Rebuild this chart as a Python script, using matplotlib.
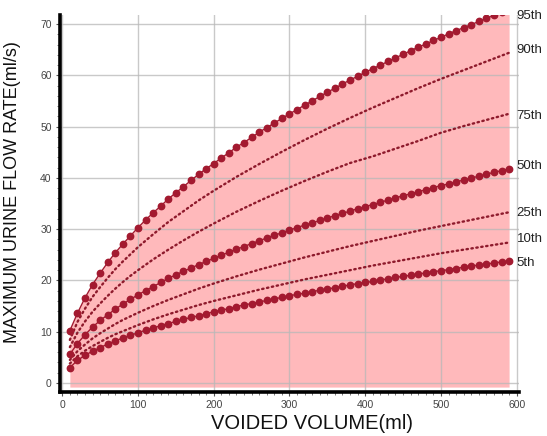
import matplotlib
matplotlib.use("Agg")
import matplotlib.pyplot as plt
from matplotlib.ticker import MultipleLocator

plt.rcParams['font.family'] = ['Liberation Sans', 'DejaVu Sans']

# Voided volume (ml) for the marker series (every 10 ml)
volume = [10, 20, 30, 40, 50, 60, 70, 80, 90, 100, 110, 120, 130, 140, 150,
          160, 170, 180, 190, 200, 210, 220, 230, 240, 250, 260, 270, 280, 290,
          300, 310, 320, 330, 340, 350, 360, 370, 380, 390, 400, 410, 420, 430,
          440, 450, 460, 470, 480, 490, 500, 510, 520, 530, 540, 550, 560, 570,
          580, 590]

p95 = [10.2, 13.6, 16.6, 19.2, 21.4, 23.5, 25.4, 27.1, 28.7, 30.3, 31.8, 33.2,
       34.5, 35.9, 37.1, 38.3, 39.5, 40.7, 41.8, 42.8, 43.9, 44.9, 46.0, 46.9,
       47.9, 48.9, 49.8, 50.7, 51.6, 52.5, 53.3, 54.2, 55.0, 55.9, 56.7, 57.5,
       58.3, 59.1, 59.8, 60.6, 61.3, 62.0, 62.7, 63.4, 64.1, 64.8, 65.5, 66.1,
       66.8, 67.4, 68.1, 68.7, 69.3, 69.9, 70.5, 71.1, 71.7, 72.3, 72.9]

p50 = [5.6, 7.7, 9.4, 10.9, 12.2, 13.3, 14.4, 15.4, 16.3, 17.2, 18.0, 18.8,
       19.6, 20.4, 21.1, 21.8, 22.4, 23.1, 23.7, 24.3, 24.9, 25.5, 26.1, 26.6,
       27.2, 27.7, 28.3, 28.8, 29.3, 29.8, 30.3, 30.8, 31.2, 31.7, 32.2, 32.6,
       33.1, 33.5, 34.0, 34.4, 34.8, 35.2, 35.7, 36.1, 36.5, 36.9, 37.3, 37.7,
       38.1, 38.5, 38.8, 39.2, 39.6, 40.0, 40.3, 40.7, 41.1, 41.4, 41.8]

p5 = [3.0, 4.4, 5.4, 6.2, 6.9, 7.6, 8.2, 8.8, 9.3, 9.8, 10.3, 10.7, 11.2, 11.6,
      12.0, 12.4, 12.8, 13.1, 13.5, 13.9, 14.2, 14.5, 14.9, 15.2, 15.5, 15.8,
      16.1, 16.4, 16.7, 17.0, 17.3, 17.5, 17.8, 18.1, 18.3, 18.6, 18.9, 19.1,
      19.4, 19.6, 19.8, 20.1, 20.3, 20.6, 20.8, 21.0, 21.2, 21.5, 21.7, 21.9,
      22.1, 22.3, 22.6, 22.8, 23.0, 23.2, 23.4, 23.6, 23.8]

# Voided volume (ml) for the dotted series
volume_d = [10, 20, 30, 40, 50, 60, 70, 80, 90, 100, 120, 140, 160, 180, 200,
            230, 260, 290, 320, 350, 380, 410, 440, 470, 500, 530, 560, 590]

p90 = [8.4, 11.9, 14.5, 16.8, 18.7, 20.5, 22.2, 23.7, 25.1, 26.5, 29.0, 31.4,
       33.5, 35.6, 37.5, 40.2, 42.7, 45.1, 47.4, 49.6, 51.7, 53.7, 55.6, 57.5,
       59.3, 61.0, 62.7, 64.4]
p75 = [7.0, 9.8, 12.0, 13.9, 15.5, 17.0, 18.4, 19.7, 20.9, 22.0, 24.1, 26.0,
       27.8, 29.5, 31.1, 33.4, 35.5, 37.5, 39.4, 41.2, 42.9, 44.2, 45.7, 47.2,
       48.8, 50.1, 51.3, 52.5]
p25 = [4.5, 6.2, 7.5, 8.7, 9.7, 10.6, 11.5, 12.3, 13.0, 13.7, 15.0, 16.2, 17.3,
       18.4, 19.4, 20.8, 22.1, 23.3, 24.5, 25.6, 26.7, 27.7, 28.7, 29.7, 30.6,
       31.5, 32.4, 33.3]
p10 = [3.8, 5.2, 6.3, 7.2, 8.0, 8.8, 9.5, 10.1, 10.7, 11.3, 12.4, 13.4, 14.3,
       15.2, 16.0, 17.1, 18.2, 19.2, 20.2, 21.1, 22.0, 22.9, 23.7, 24.5, 25.3,
       26.0, 26.7, 27.4]

labels = ["95th", "90th", "75th", "50th", "25th", "10th", "5th"]
label_y = [71.5, 64.9, 52.0, 42.3, 33.1, 28.1, 23.4]

fig = plt.figure(figsize=(5.47, 4.36), dpi=100)
ax = fig.add_axes([0.1097, 0.101, 0.839, 0.865])

red = '#A31A30'
ax.fill_between(volume, -0.8, p95, color='#FFB9BB', lw=0, zorder=0.3)

ax.plot(volume, p95, '-', color=red, lw=1.0, marker='o', ms=4.6, zorder=3)
ax.plot(volume, p50, '-', color=red, lw=1.0, marker='o', ms=4.6, zorder=3)
ax.plot(volume, p5, '-', color=red, lw=1.0, marker='o', ms=4.6, zorder=3)
for s in (p90, p75, p25, p10):
    ax.plot(volume_d, s, color='#8E1A2C', lw=1.7, linestyle=(0, (0.6, 1.5)),
            dash_capstyle='round', zorder=2)

for lab, yy in zip(labels, label_y):
    ax.text(600, yy, lab, fontsize=9.5, color='#222222', ha='left',
            va='center', clip_on=False)

ax.set_xlim(-3, 603)
ax.set_ylim(-1.75, 71.8)
ax.xaxis.set_major_locator(MultipleLocator(100))
ax.xaxis.set_minor_locator(MultipleLocator(10))
ax.yaxis.set_major_locator(MultipleLocator(10))
ax.yaxis.set_minor_locator(MultipleLocator(2))
ax.set_axisbelow(True)
ax.grid(True, which='major', color='#b8b8b8', lw=1.0, alpha=0.75, zorder=0.5)

for sp in ('top', 'right'):
    ax.spines[sp].set_visible(False)
for sp in ('left', 'bottom'):
    ax.spines[sp].set_linewidth(2.6)
    ax.spines[sp].set_color('black')

ax.tick_params(which='major', direction='out', length=3, width=0.8,
               colors='#555555', labelsize=7.5, labelcolor='#444444', pad=3)
ax.tick_params(which='minor', direction='out', length=2, width=0.6,
               colors='#666666')

ax.set_xlabel("VOIDED VOLUME(ml)", fontsize=14.5, color='#111111')
ax.xaxis.set_label_coords(0.55, -0.058)
ax.set_ylabel("MAXIMUM URINE FLOW RATE(ml/s)", fontsize=13, color='#111111')
ax.yaxis.set_label_coords(-0.085, 0.53)

fig.savefig("out.png", dpi=100)
